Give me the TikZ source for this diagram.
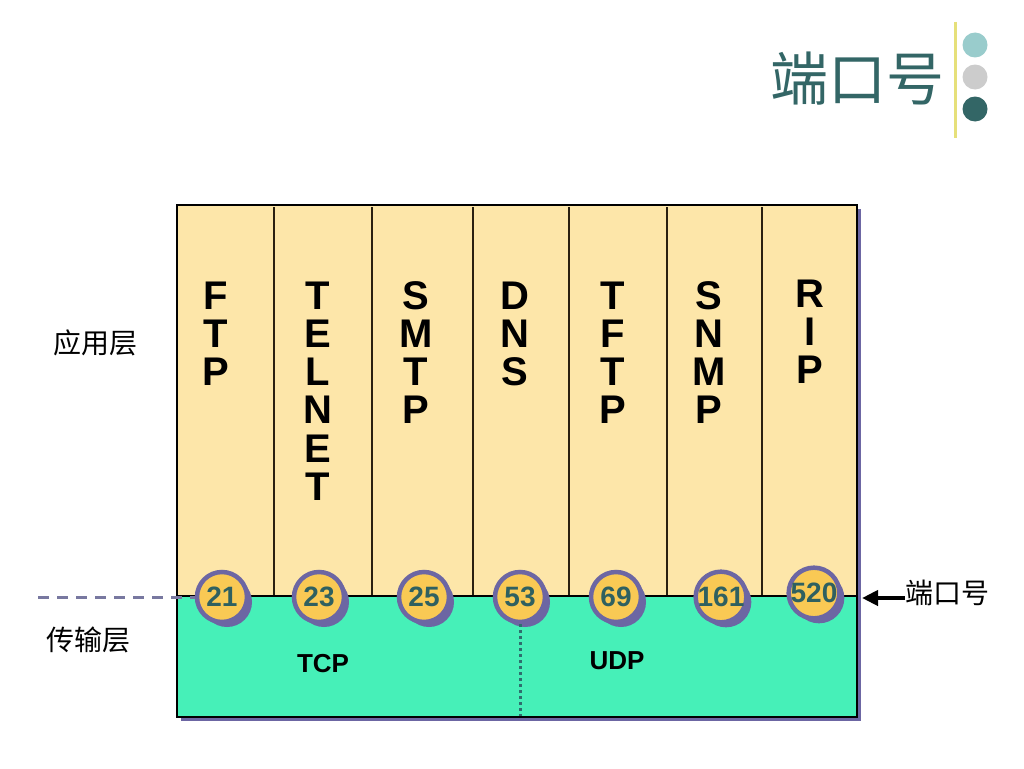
\documentclass[tikz,border=0pt]{standalone}
\usepackage{fontspec}
\setmainfont{Liberation Sans}
\newfontfamily\cjk{Noto Sans CJK SC}
\usetikzlibrary{arrows.meta,shadows}
\definecolor{appfill}{HTML}{FDE6A9}
\definecolor{tpfill}{HTML}{46F0B8}
\definecolor{goldc}{HTML}{F9C954}
\definecolor{purp}{HTML}{6C66A3}
\definecolor{numc}{HTML}{2F6060}
\definecolor{titlec}{HTML}{336666}
\definecolor{lteal}{HTML}{99CCCC}
\definecolor{lgray}{HTML}{CCCCCC}
\definecolor{ylw}{HTML}{E6E07A}
\definecolor{divc}{HTML}{2A2010}
\definecolor{dashc}{HTML}{7878A0}
\definecolor{dotc}{HTML}{2E6E6E}
\tikzset{
  portc/.style={circle, fill=goldc, draw=purp, line width=4.5pt, minimum size=50pt, inner sep=0pt,
    font=\bfseries\fontsize{28}{28}\selectfont, text=numc,
    drop shadow={shadow xshift=5pt, shadow yshift=-5pt, fill=purp, opacity=1}},
  letterc/.style={anchor=base, inner sep=0pt, font=\bfseries\fontsize{40}{40}\selectfont},
  cjklbl/.style={inner sep=0pt, font=\cjk\fontsize{28}{28}\selectfont},
  protolbl/.style={inner sep=0pt, font=\bfseries\fontsize{26}{26}\selectfont},
}
\begin{document}
\begin{tikzpicture}[x=1pt,y=-1pt]
\useasboundingbox[fill=white] (0,0) rectangle (1024,768);
% title
\node[inner sep=0pt, text=titlec, font=\cjk\fontsize{58}{58}\selectfont] (title) at (857,79) {端口号};
\draw[ylw, line width=3pt] (955,22) -- (955,138);
\fill[lteal] (975,45) circle (12.5pt);
\fill[lgray] (975,77) circle (12.5pt);
\fill[titlec] (975,109) circle (12.5pt);
% main box
\fill[purp] (181,209) rectangle (861,721);
\fill[appfill] (177,205) rectangle (857,596);
\fill[tpfill] (177,596) rectangle (857,717);
\foreach \x in {274,372,473,569,667,762}
  \draw[divc, line width=1.3pt] (\x,207) -- (\x,596);
\draw[black, line width=1.3pt] (177,596) -- (857,596);
\draw[black, line width=1.5pt] (177,205) rectangle (857,717);
% vertical protocol names
\foreach \x/\y/\word/\nm in {216/309/{F,T,P}/ftp, 318/309/{T,E,L,N,E,T}/telnet, 416/309/{S,M,T,P}/smtp,
    515/309/{D,N,S}/dns, 613/309/{T,F,T,P}/tftp, 709/309/{S,N,M,P}/snmp, 810/307/{R,I,P}/rip}{
  \foreach \l [count=\i] in \word
    \node[letterc] (\nm\i) at (\x,\y+38.3*\i-38.3) {\l};
}
% ports
\coordinate (dotend) at (520,716);
\foreach \x/\y/\t in {222/597/21, 319/597/23, 424/597/25, 520/597/53, 616/597/69, 721/597/161, 814/593/520}
  \node[portc] (p\t) at (\x,\y) {\t};
\draw[dotc, line width=3pt, dash pattern=on 3pt off 3pt] (p53.south) -- (dotend);
% protocol labels
\node[protolbl] (tcp) at (323,664) {TCP};
\node[protolbl] (udp) at (617,661) {UDP};
% layer labels
\node[cjklbl] (app) at (95,343) {应用层};
\node[cjklbl] (trans) at (88,640) {传输层};
\coordinate (dstart) at (38,597);
\draw[dashc, line width=3pt, dash pattern=on 11pt off 8pt] (dstart) -- (p21.west);
% port label
\node[cjklbl] (portlbl) at (947,593) {端口号};
\coordinate (aend) at (862,598);
\draw[black, line width=4pt, -{Triangle[length=16pt,width=15pt]}] (portlbl.west|-aend) -- (aend);
\end{tikzpicture}
\end{document}
